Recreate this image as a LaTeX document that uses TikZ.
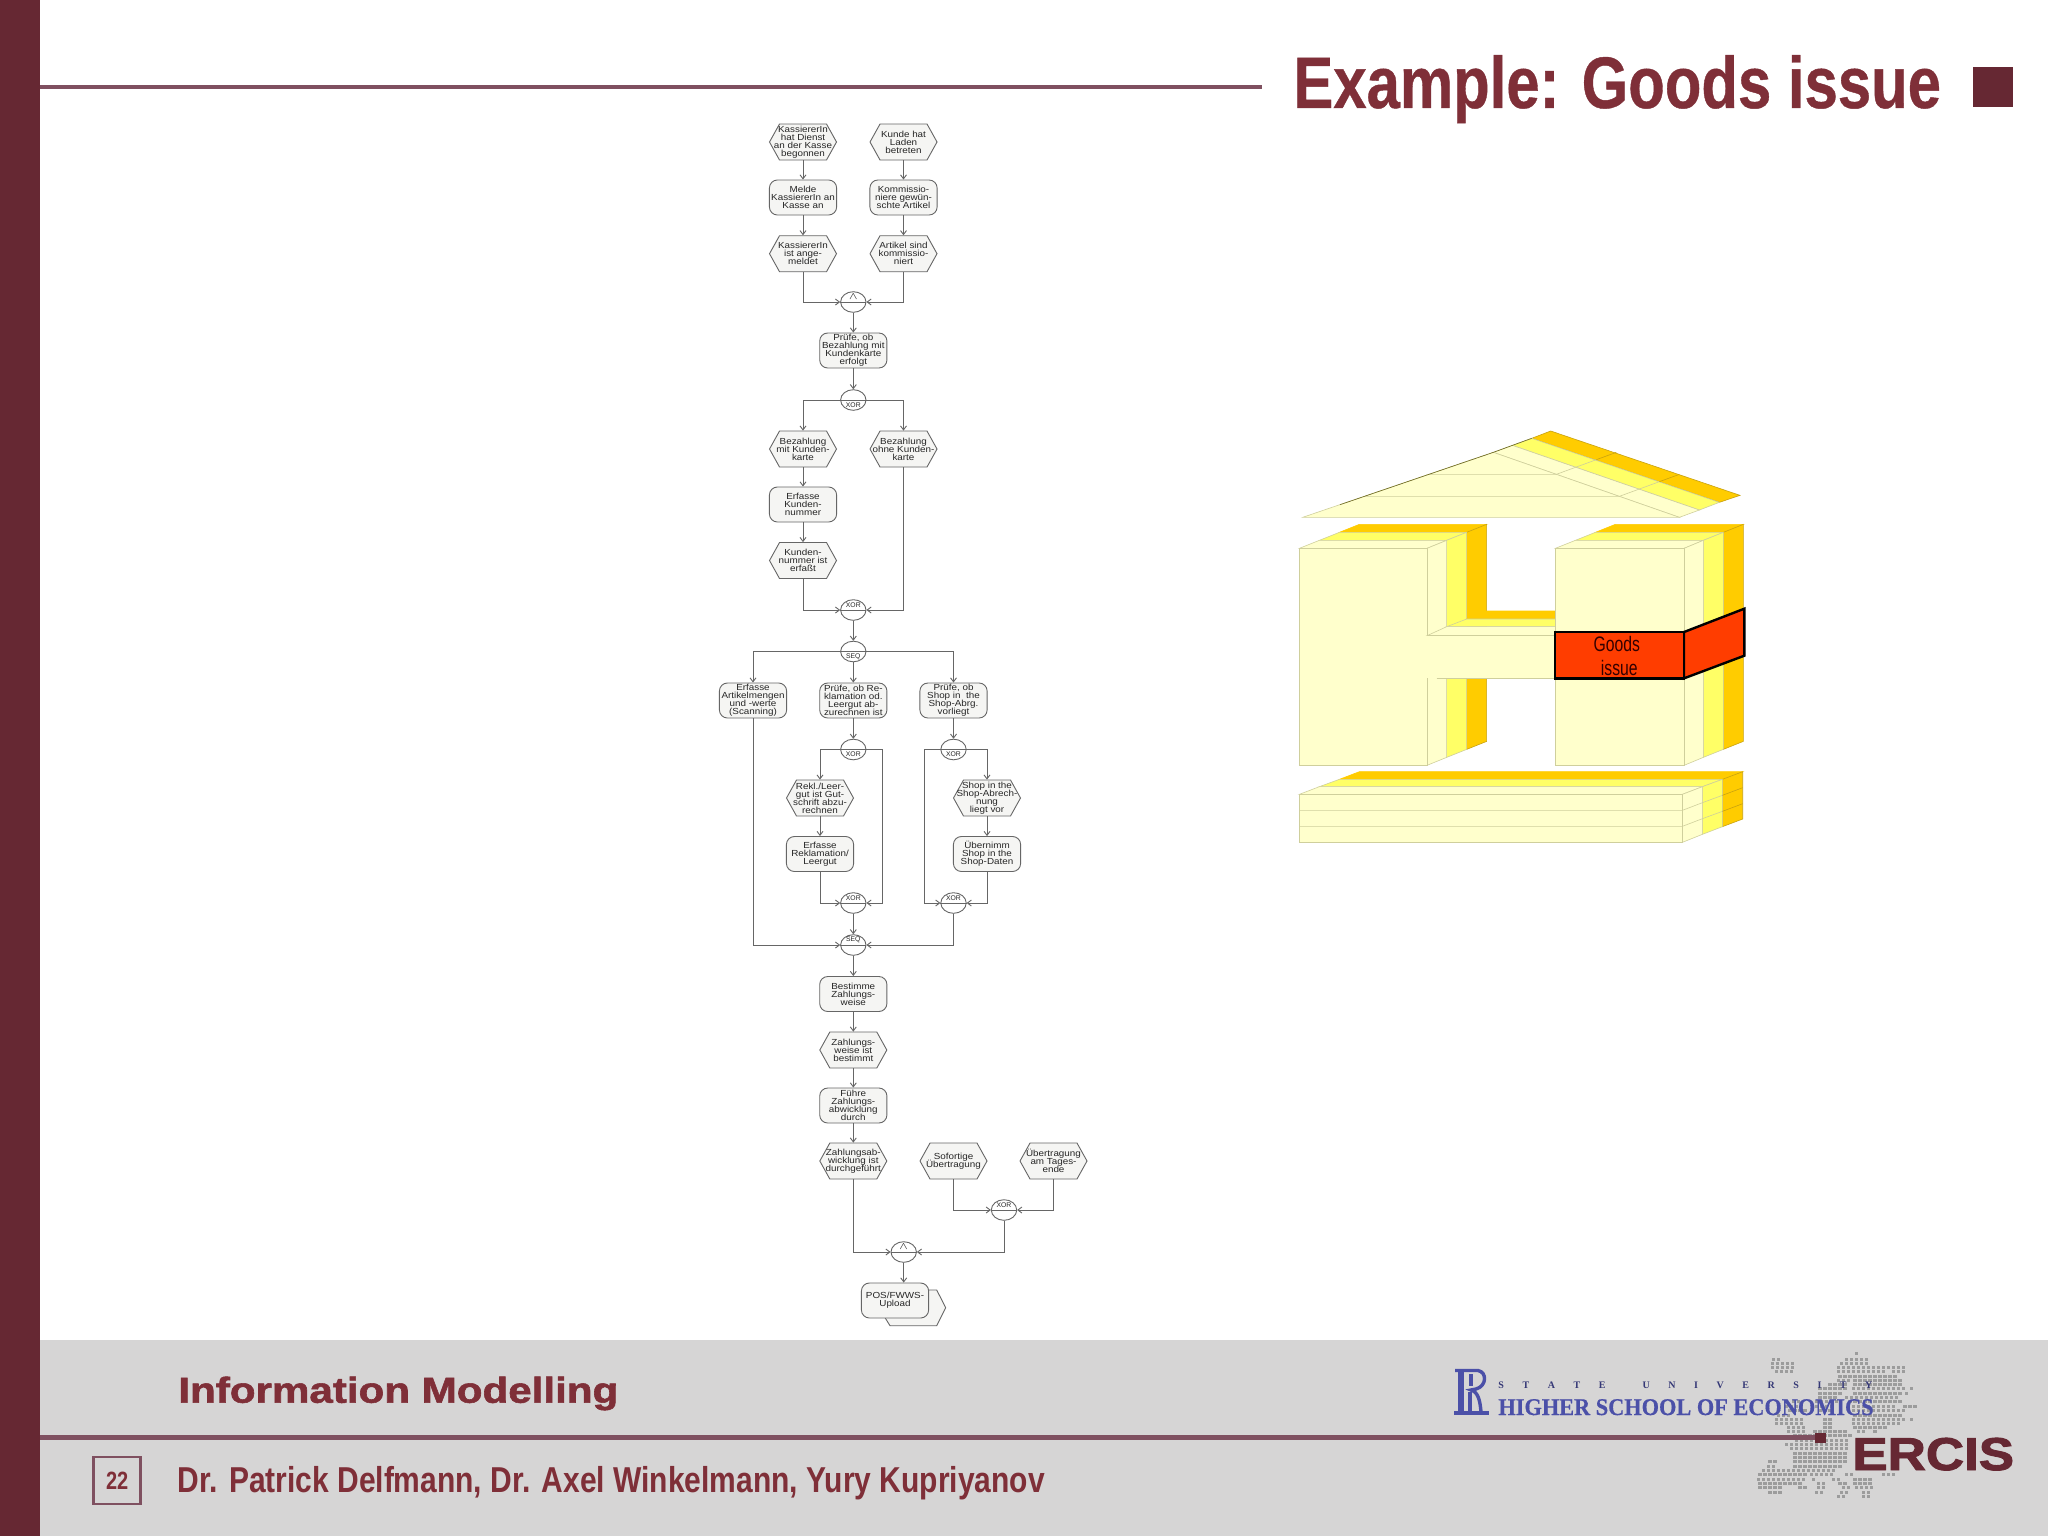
\documentclass[tikz,border=0pt]{standalone}
\usepackage{fontspec}
\usepackage{graphicx}
\setmainfont{Liberation Sans}
\newfontfamily\serifbf{Liberation Serif}
\newfontfamily\flowfam{Liberation Sans}[FakeStretch=1.12]
\usetikzlibrary{arrows.meta,shapes.geometric}
\definecolor{barcol}{HTML}{662833}
\definecolor{titlecol}{HTML}{7F2F38}
\definecolor{rulecol}{HTML}{7F5060}
\definecolor{footcol}{HTML}{D6D5D5}
\definecolor{nodefill}{HTML}{F5F5F3}
\definecolor{flowline}{HTML}{666666}
\definecolor{wlight}{HTML}{FFFFCC}
\definecolor{wyellow}{HTML}{FFFF66}
\definecolor{wgold}{HTML}{FFCC00}
\definecolor{wedge}{HTML}{CFCF9C}
\definecolor{wgoldedge}{HTML}{C8A210}
\definecolor{wred}{HTML}{FF3D00}
\definecolor{hseblue}{HTML}{4B50A8}
\definecolor{mapdot}{HTML}{9C9C9C}
\newcommand{\flowfont}{\flowfam\fontsize{4.4}{4}\selectfont\lineskiplimit=-5pt\relax}
\tikzset{
  funcn/.style={draw=flowline,fill=nodefill,line width=.45pt,rounded corners=4pt,minimum width=33.6pt,minimum height=17.5pt,inner sep=0pt,align=center,font=\flowfont,text=black!85},
  hexbox/.style={minimum width=33.6pt,minimum height=18pt,inner sep=0pt,align=center,font=\flowfont,text=black!85},
  hexline/.style={draw=flowline,fill=nodefill,line width=.45pt},
  gaten/.style={ellipse,draw=flowline,fill=white,line width=.45pt,minimum width=12.7pt,minimum height=10.3pt,inner sep=0pt},
  gatetxt/.style={inner sep=0pt,font=\fontsize{3.4}{3}\selectfont,text=black!85},
  flow/.style={draw=flowline,line width=.45pt,-{Straight Barb[length=2pt,width=3pt]}},
  wall/.style={draw=wedge,line width=.3pt},
  goldwall/.style={draw=wgoldedge,line width=.3pt},
  redband/.style={draw=black,fill=wred,line width=1.2pt,line join=miter},
  x=.5pt,y=-.5pt
}
\newcommand{\hexn}[4]{%
  \draw[hexline] ({#2-33.5},#3) -- ({#2-23.5},{#3-18}) -- ({#2+23.5},{#3-18}) -- ({#2+33.5},#3) -- ({#2+23.5},{#3+18}) -- ({#2-23.5},{#3+18}) -- cycle;
  \node[hexbox] (#1) at (#2,#3) {#4};}
\newcommand{\gatejoin}[4]{%
  \node[gaten] (#1) at (#2,#3) {};
  \draw[draw=flowline,line width=.3pt] (#1.west) -- (#1.east);
  \node[gatetxt] (#1t) at (#2,{#3-5}) {#4};}
\newcommand{\gatesplit}[4]{%
  \node[gaten] (#1) at (#2,#3) {};
  \draw[draw=flowline,line width=.3pt] (#1.west) -- (#1.east);
  \node[gatetxt] (#1t) at (#2,{#3+5}) {#4};}
\begin{document}
\begin{tikzpicture}
\useasboundingbox (0,0) rectangle (2048,1536);
\fill[white] (0,0) rectangle (2048,1536);
% footer and frame
\fill[footcol] (40,1340) rectangle (2048,1536);
\fill[barcol] (0,0) rectangle (40,1536);
\fill[rulecol] (40,85.5) rectangle (1262,89);
% title
\node[anchor=base west,inner sep=0pt,text=titlecol] (title) at (1293,108) {\fontsize{36.5}{36.5}\selectfont\bfseries\addfontfeature{FakeBold=.6}\scalebox{.82}[1]{Example: Goods issue}};
\fill[barcol] (1973,67) rectangle (2013,107);
% Europe dot map
\foreach \r/\a/\b in {25/350/350,42/100/125,42/320/380,55/98/158,55/305/380,68/98/158,68/295/435,68/445/490,80/110/155,80/295/430,80/460/490,93/300/470,105/295/330,105/345/490,118/270/320,118/345/490,131/240/320,131/340/490,131/515/520,144/240/310,144/345/490,144/500/510,157/240/290,157/320/470,170/160/180,170/230/290,170/330/490,183/140/190,183/230/280,183/340/470,183/495/525,196/150/200,196/240/280,196/340/490,210/115/155,210/345/490,222/110/190,222/255/280,222/340/490,222/515/525,235/110/190,235/255/280,235/340/480,248/145/190,248/255/275,248/345/440,260/145/195,260/225/320,260/355/375,260/405/410,272/165/330,285/170/330,298/140/330,311/155/330,324/165/325,337/165/325,350/90/110,350/165/325,363/85/110,363/165/310,376/70/285,389/60/200,389/215/285,389/320/340,389/430/460,402/55/190,402/220/230,402/280/300,402/345/400,415/60/190,415/235/250,415/300/320,415/345/395,428/60/130,428/180/195,428/235/250,428/310/325,428/350/395,441/90/120,441/230/250,441/305/320,441/370/390,454/295/315,454/370/385}{
  \pgfmathtruncatemacro{\n}{(\b-\a)/15}
  \foreach \i in {0,...,\n}{
    \pgfmathsetmacro{\px}{1740+(\a+15*\i)/3}
    \pgfmathsetmacro{\py}{1345+\r/3}
    \fill[mapdot] ({\px-1.6},{\py-1.5}) rectangle ({\px+1.6},{\py+1.5});
  }
}
% HSE logo
\begin{scope}[hseblue,line width=1.7pt,line cap=butt]
  \draw (1455,1370.5) -- (1478,1370.5) .. controls (1487,1372) and (1487,1386) .. (1476,1389) -- (1471,1390) .. controls (1478,1392) and (1480,1400) .. (1481,1412);
  \draw[line width=2.8pt] (1461,1371) -- (1461,1412);
  \draw (1471,1374) -- (1471,1386);
  \draw (1470,1392) -- (1470,1412);
  \draw (1454,1413) -- (1489,1413);
\end{scope}
\node[anchor=base west,inner sep=0pt,text=hseblue!70!black] (hsesmall) at (1498,1388.5) {\serifbf\bfseries\fontsize{5}{5}\selectfont\makebox[187pt][s]{S\hfill T\hfill A\hfill T\hfill E\hfill\hfill U\hfill N\hfill I\hfill V\hfill E\hfill R\hfill S\hfill I\hfill T\hfill Y}};
\node[anchor=base west,inner sep=0pt,text=hseblue] (hsebig) at (1498,1415) {\serifbf\bfseries\fontsize{12}{12}\selectfont\addfontfeature{FakeBold=.5}\scalebox{.93}[1]{HIGHER SCHOOL OF ECONOMICS}};
% footer line and ERCIS
\fill[rulecol] (40,1435) rectangle (1818,1440);
\fill[barcol] (1815,1433) rectangle (1826,1443);
\node[anchor=base west,inner sep=0pt,text=barcol] (ercis) at (1852,1470) {\fontsize{23}{23}\selectfont\bfseries\addfontfeature{FakeBold=2}\scalebox{1.15}[1]{ERCIS}};
\node[anchor=base west,inner sep=0pt,text=titlecol] (course) at (178,1402.7) {\fontsize{18}{18}\selectfont\bfseries\addfontfeature{FakeBold=1.5}\scalebox{1.17}[1]{Information Modelling}};
\node[anchor=base west,inner sep=0pt,text=titlecol] (authors) at (177.5,1492) {\fontsize{18}{18}\selectfont\bfseries\scalebox{.833}[1]{Dr. Patrick Delfmann, Dr. Axel Winkelmann, Yury Kupriyanov}};
\node[draw=rulecol,line width=1.3pt,minimum width=23.5pt,minimum height=23.5pt,inner sep=0pt,text=titlecol] (pageno) at (117.2,1480.5) {\fontsize{12.5}{12.5}\selectfont\bfseries\scalebox{.8}[1]{22}};
% flow chart: events and functions
\hexn{h1}{803}{142}{KassiererIn\\hat Dienst\\an der Kasse\\begonnen}
\hexn{h2}{903.5}{142}{Kunde hat\\Laden\\betreten}
\node[funcn] (f1) at (803,197.5) {Melde\\KassiererIn an\\Kasse an};
\node[funcn] (f2) at (903.5,197.5) {Kommissio-\\niere gewün-\\schte Artikel};
\hexn{h3}{803}{253.7}{KassiererIn\\ist ange-\\meldet}
\hexn{h4}{903.5}{253.7}{Artikel sind\\kommissio-\\niert}
\gatejoin{and1}{853.3}{302}{$\wedge$}
\node[funcn] (f3) at (853.3,350.5) {Prüfe, ob\\Bezahlung mit\\Kundenkarte\\erfolgt};
\gatesplit{x1}{853.3}{400}{XOR}
\hexn{h5}{803}{449}{Bezahlung\\mit Kunden-\\karte}
\hexn{h6}{903.5}{449}{Bezahlung\\ohne Kunden-\\karte}
\node[funcn] (f4) at (803,504.5) {Erfasse\\Kunden-\\nummer};
\hexn{h7}{803}{560.5}{Kunden-\\nummer ist\\erfaßt}
\gatejoin{x2}{853.3}{610}{XOR}
\gatesplit{s1}{853.3}{651.5}{SEQ}
\node[funcn] (f5) at (753,700.5) {Erfasse\\Artikelmengen\\und -werte\\(Scanning)};
\node[funcn] (f6) at (853.3,700.5) {Prüfe, ob Re-\\klamation od.\\Leergut ab-\\zurechnen ist};
\node[funcn] (f7) at (953.5,700.5) {Prüfe, ob\\Shop in\ \ the\\Shop-Abrg.\\vorliegt};
\gatesplit{x3}{853.3}{749.5}{XOR}
\gatesplit{x4}{953.5}{749.5}{XOR}
\hexn{h8}{820}{798}{Rekl./Leer-\\gut ist Gut-\\schrift abzu-\\rechnen}
\hexn{h9}{987}{798}{Shop in the\\Shop-Abrech-\\nung\\liegt vor}
\node[funcn] (f8) at (820,854) {Erfasse\\Reklamation/\\Leergut};
\node[funcn] (f9) at (987,854) {Übernimm\\Shop in the\\Shop-Daten};
\gatejoin{x5}{853.3}{903}{XOR}
\gatejoin{x6}{953.5}{903}{XOR}
\gatejoin{s2}{853.3}{945}{SEQ}
\node[funcn] (f10) at (853.3,994) {Bestimme\\Zahlungs-\\weise};
\hexn{h10}{853.3}{1050}{Zahlungs-\\weise ist\\bestimmt}
\node[funcn] (f11) at (853.3,1105.5) {Führe\\Zahlungs-\\abwicklung\\durch};
\hexn{h11}{853.3}{1161}{Zahlungsab-\\wicklung ist\\durchgeführt}
\hexn{h12}{953.5}{1161}{Sofortige\\Übertragung}
\hexn{h13}{1053.5}{1161}{Übertragung\\am Tages-\\ende}
\gatejoin{x7}{1004}{1210}{XOR}
\gatejoin{a2}{903.7}{1252}{$\wedge$}
\draw[hexline] (929,1290) -- (936.7,1290) -- (945.7,1307.7) -- (936.7,1325.7) -- (890,1325.7) -- (884,1316) -- cycle;
\node[funcn] (f12) at (895,1300.5) {POS/FWWS-\\Upload};
\coordinate (c1) at (882.7,749.5);
\coordinate (c2) at (924.3,749.5);
% connectors
\draw[flow] (h1) -- (f1);
\draw[flow] (f1) -- (h3);
\draw[flow] (h2) -- (f2);
\draw[flow] (f2) -- (h4);
\draw[flow] (h3.south) |- (and1.west);
\draw[flow] (h4.south) |- (and1.east);
\draw[flow] (and1.south) -- (f3.north);
\draw[flow] (f3.south) -- (x1.north);
\draw[flow] (x1.west) -| (h5.north);
\draw[flow] (x1.east) -| (h6.north);
\draw[flow] (h5) -- (f4);
\draw[flow] (f4) -- (h7);
\draw[flow] (h7.south) |- (x2.west);
\draw[flow] (h6.south) |- (x2.east);
\draw[flow] (x2.south) -- (s1.north);
\draw[flow] (s1.west) -| (f5.north);
\draw[flow] (s1.south) -- (f6.north);
\draw[flow] (s1.east) -| (f7.north);
\draw[flow] (f6.south) -- (x3.north);
\draw[flow] (f7.south) -- (x4.north);
\draw[flow] (x3.west) -| (h8.north);
\draw[flow] (h8) -- (f8);
\draw[flow] (f8.south) |- (x5.west);
\draw[flow] (x3.east) -- (c1) |- (x5.east);
\draw[flow] (x4.west) -- (c2) |- (x6.west);
\draw[flow] (x4.east) -| (h9.north);
\draw[flow] (h9) -- (f9);
\draw[flow] (f9.south) |- (x6.east);
\draw[flow] (x5.south) -- (s2.north);
\draw[flow] (f5.south) |- (s2.west);
\draw[flow] (x6.south) |- (s2.east);
\draw[flow] (s2.south) -- (f10.north);
\draw[flow] (f10) -- (h10);
\draw[flow] (h10) -- (f11);
\draw[flow] (f11) -- (h11);
\draw[flow] (h11.south) |- (a2.west);
\draw[flow] (h12.south) |- (x7.west);
\draw[flow] (h13.south) |- (x7.east);
\draw[flow] (x7.south) |- (a2.east);
\draw[flow] (a2.south) -- (a2.south |- f12.north);
% house
\begin{scope}[shift={(1280,420)},x=.16667pt,y=-.16667pt]
  % roof
  \filldraw[goldwall,fill=wgold] (755,55) -- (812,33) -- (1380,226) -- (1318,247) -- cycle;
  \filldraw[wall,fill=wyellow] (697,76) -- (755,55) -- (1318,247) -- (1258,270) -- cycle;
  \filldraw[wall,fill=wlight] (640,97) -- (697,76) -- (1258,270) -- (1198,292) -- cycle;
  \filldraw[wall,fill=wlight] (68,292) -- (640,97) -- (1198,292) -- cycle;
  \draw[wall] (439,163) -- (829,163) -- (889,141) -- (949,119);
  \draw[goldwall] (949,119) -- (1009,97);
  \draw[wall] (249,229) -- (1018,229) -- (1078,207) -- (1138,185);
  \draw[goldwall] (1138,185) -- (1198,163);
  \draw[draw=olive!70!black,line width=.3pt] (180,254) -- (640,97) -- (755,55);
  % left pillar
  \filldraw[wall,draw=wgold,fill=wgold] (178,337) -- (238,313) -- (620,313) -- (560,337) -- cycle;
  \filldraw[wall,fill=wyellow] (118,361) -- (178,337) -- (560,337) -- (500,361) -- cycle;
  \filldraw[wall,fill=wlight] (58,385) -- (118,361) -- (500,361) -- (441,385) -- cycle;
  \filldraw[goldwall,fill=wgold] (560,337) -- (620,313) -- (620,964) -- (560,988) -- cycle;
  \filldraw[wall,fill=wyellow] (500,361) -- (560,337) -- (560,988) -- (500,1012) -- cycle;
  \filldraw[wall,fill=wlight] (441,385) -- (500,361) -- (500,1012) -- (441,1036) -- cycle;
  \filldraw[wall,fill=wlight] (58,385) rectangle (441,1036);
  % beam
  \filldraw[wall,draw=wgold,fill=wgold] (560,597) -- (620,573) -- (826,573) -- (826,597) -- cycle;
  \filldraw[wall,fill=wyellow] (500,620) -- (560,597) -- (826,597) -- (826,620) -- cycle;
  \filldraw[wall,fill=wlight] (441,647) -- (500,620) -- (826,620) -- (826,647) -- cycle;
  \fill[wlight] (435,647) rectangle (826,775);
  \draw[wall] (441,647) -- (826,647);
  \draw[wall] (470,775) -- (826,775);
  % right pillar
  \filldraw[wall,draw=wgold,fill=wgold] (1006,313) -- (1390,313) -- (1330,337) -- (946,337) -- cycle;
  \filldraw[wall,fill=wyellow] (946,337) -- (1330,337) -- (1270,361) -- (886,361) -- cycle;
  \filldraw[wall,fill=wlight] (886,361) -- (1270,361) -- (1212,385) -- (826,385) -- cycle;
  \filldraw[goldwall,fill=wgold] (1330,337) -- (1390,313) -- (1390,964) -- (1330,988) -- cycle;
  \filldraw[wall,fill=wyellow] (1270,361) -- (1330,337) -- (1330,988) -- (1270,1012) -- cycle;
  \filldraw[wall,fill=wlight] (1212,385) -- (1270,361) -- (1270,1012) -- (1212,1036) -- cycle;
  \filldraw[wall,fill=wlight] (826,385) rectangle (1212,1036);
  % red band
  \filldraw[redband] (1212,636) -- (1393,566) -- (1393,707) -- (1212,775) -- cycle;
  \filldraw[redband] (825,636) rectangle (1212,775);
  \node[inner sep=0pt,text=black!80!red] (goods) at (1010,673) {\fontsize{10.5}{10.5}\selectfont\scalebox{.75}[1]{Goods}};
  \node[inner sep=0pt,text=black!80!red] (issue) at (1018,745) {\fontsize{10.5}{10.5}\selectfont\scalebox{.75}[1]{issue}};
  % base slab
  \filldraw[wall,draw=wgold,fill=wgold] (178,1078) -- (238,1055) -- (1388,1055) -- (1327,1078) -- cycle;
  \filldraw[wall,fill=wyellow] (118,1100) -- (178,1078) -- (1327,1078) -- (1267,1100) -- cycle;
  \filldraw[wall,fill=wlight] (58,1123) -- (118,1100) -- (1267,1100) -- (1207,1123) -- cycle;
  \filldraw[goldwall,fill=wgold] (1327,1078) -- (1388,1055) -- (1388,1197) -- (1327,1220) -- cycle;
  \filldraw[wall,fill=wyellow] (1267,1100) -- (1327,1078) -- (1327,1220) -- (1267,1243) -- cycle;
  \filldraw[wall,fill=wlight] (1207,1123) -- (1267,1100) -- (1267,1243) -- (1207,1267) -- cycle;
  \filldraw[wall,fill=wlight] (58,1123) rectangle (1207,1267);
  \draw[wall] (58,1171) -- (1207,1171) -- (1267,1148) -- (1327,1126);
  \draw[goldwall] (1327,1126) -- (1388,1103);
  \draw[wall] (58,1219) -- (1207,1219) -- (1267,1196) -- (1327,1174);
  \draw[goldwall] (1327,1174) -- (1388,1151);
\end{scope}
\end{tikzpicture}
\end{document}
